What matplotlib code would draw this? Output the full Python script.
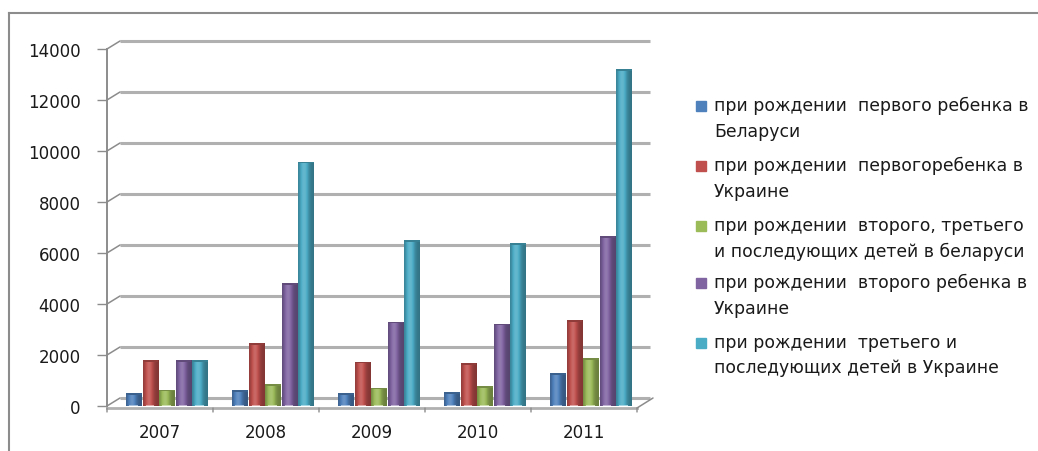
import numpy as np
import matplotlib
matplotlib.use("Agg")
import matplotlib.pyplot as plt
from matplotlib.transforms import ScaledTranslation, blended_transform_factory
from matplotlib.colors import to_rgb
from matplotlib.patches import Rectangle

plt.rcParams['font.family'] = ['DejaVu Sans']

years = ['2007', '2008', '2009', '2010', '2011']
series_names = [
    'при рождении  первого ребенка в\nБеларуси',
    'при рождении  первогоребенка в\nУкраине',
    'при рождении  второго, третьего\nи последующих детей в беларуси',
    'при рождении  второго ребенка в\nУкраине',
    'при рождении  третьего и\nпоследующих детей в Украине',
]
by_first = [500, 620, 520, 550, 1300]
ua_first = [1800, 2480, 1740, 1690, 3370]
by_second_plus = [640, 870, 720, 780, 1890]
ua_second = [1800, 4830, 3310, 3230, 6670]
ua_third_plus = [1800, 9580, 6500, 6380, 13200]
values = [by_first, ua_first, by_second_plus, ua_second, ua_third_plus]
colors = ['#4F81BD', '#C0504D', '#9BBB59', '#8064A2', '#4BACC6']
yticks = [0, 2000, 4000, 6000, 8000, 10000, 12000, 14000]

W, H = 1038, 452
fig = plt.figure(figsize=(W / 100, H / 100), dpi=100)
ax = fig.add_axes([107 / W, 1 - 407 / H, 530 / W, 357 / H])
ax.set_xlim(-0.5, 4.5)
ax.set_ylim(0, 14000)
for s in ax.spines.values():
    s.set_visible(False)

grid_c = '#B0B0B0'
line_c = '#8C8C8C'


def px(dx, dy):
    return ScaledTranslation(dx / 100, dy / 100, fig.dpi_scale_trans)


def seg(xy0, tr0, xy1, tr1, **kw):
    ax.annotate('', xy=xy1, xycoords=tr1, xytext=xy0, textcoords=tr0,
                arrowprops=dict(arrowstyle='-', shrinkA=0, shrinkB=0, **kw))


bt = blended_transform_factory(ax.transAxes, ax.transData)
# back-wall gridlines with 3D slant
for v in yticks:
    seg((0, v), bt, (0, v), bt + px(13, 8), color=line_c, lw=1.1)
    ax.plot([0, 1], [v, v], transform=bt + px(13, 8), color=grid_c,
            lw=2.2, clip_on=False, zorder=0.5, solid_capstyle='butt')

# floor front edge and right slant
ax.plot([0, 1], [0, 0], transform=bt + px(0, -2), color=grid_c, lw=2.0,
        clip_on=False, zorder=0.6)
seg((1, 0), bt + px(0, -2), (1, 0), bt + px(16, 8), color=line_c, lw=1.1)
# left axis line
ax.plot([0, 0], [0, 14000], transform=bt, color=line_c, lw=1.4, clip_on=False)

# bars with cylinder-like shading
step = 0.156
bw = 0.145
xs = np.arange(len(years))
prof = np.linspace(0, 1, 64)
shade = 0.68 + 0.48 * np.exp(-((prof - 0.38) / 0.28) ** 2)
for i, (vals, col) in enumerate(zip(values, colors)):
    c = np.array(to_rgb(col))
    bars = ax.bar(xs + (i - 2) * step + 0.066, vals, width=bw, color=col,
                  edgecolor='none', zorder=2)
    img = np.empty((1, 64, 3))
    for k in range(64):
        s = shade[k]
        img[0, k] = c * s if s <= 1 else c + (1 - c) * (s - 1) * 0.9
    img = np.clip(img, 0, 1)
    for b in bars:
        x0, w, h = b.get_x(), b.get_width(), b.get_height()
        im = ax.imshow(img, extent=(x0, x0 + w, 0, h), aspect='auto',
                       zorder=2.1, interpolation='bilinear')
        im.set_clip_path(b)
        ax.add_patch(Rectangle((x0, h - 70), w, 70, color=c * 0.75,
                               zorder=2.2, lw=0))
        ax.add_patch(Rectangle((x0 + w * 0.2, 0), w * 0.55, 40,
                               color=c + (1 - c) * 0.5, zorder=2.2, lw=0))

ax.set_xlim(-0.5, 4.5)
ax.set_ylim(0, 14000)
ax.set_yticks(yticks)
ax.set_yticklabels([str(v) for v in yticks], fontsize=12, color='#1a1a1a')
ax.set_xticks(xs)
ax.set_xticklabels(years, fontsize=12, color='#1a1a1a')
ax.tick_params(axis='y', length=7, width=1, color=line_c, pad=12)
ax.tick_params(axis='x', length=0, pad=12)
for k in range(0, len(years) + 1):
    seg((k - 0.5, 0), ax.transData + px(0, -2),
        (k - 0.5, 0), ax.transData + px(0, -6), color=line_c, lw=1)

# outer chart border (left and top)
fig.add_artist(plt.Line2D([9 / W, 9 / W], [0, 1 - 14 / H], color='#8C8C8C',
                          lw=1.5, transform=fig.transFigure))
fig.add_artist(plt.Line2D([9 / W, 1], [1 - 14 / H, 1 - 14 / H],
                          color='#8C8C8C', lw=1.5, transform=fig.transFigure))

# legend
entry_y = [107, 167, 227, 284, 344]
for name, col, yy in zip(series_names, colors, entry_y):
    fig.add_artist(Rectangle((696 / W, 1 - (yy + 5) / H), 10 / W, 10 / H,
                             color=col, transform=fig.transFigure))
    fig.text(714 / W, 1 - (yy - 10) / H, name, fontsize=12.4, va='top',
             ha='left', color='#1a1a1a', linespacing=1.52)

fig.savefig('out.png', dpi=100)
